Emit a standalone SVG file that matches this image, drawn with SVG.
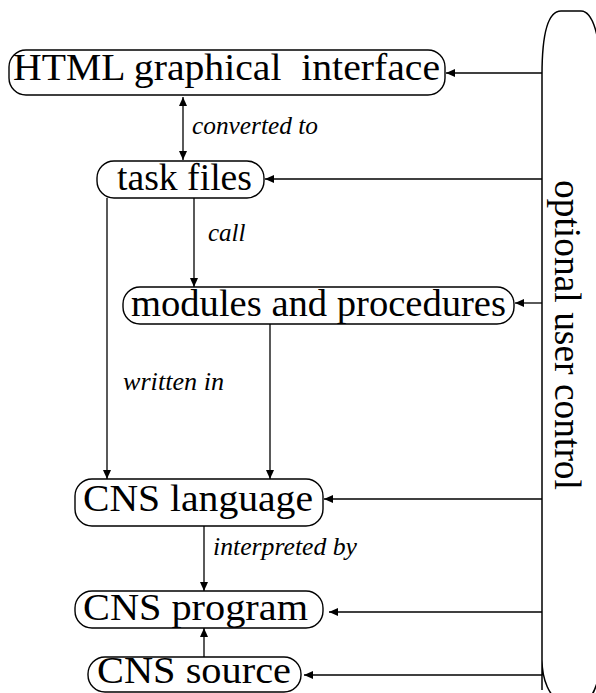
<svg xmlns="http://www.w3.org/2000/svg" width="596" height="693" viewBox="0 0 596 693">
<style>
.box{fill:#fff;stroke:#000;stroke-width:1.4}
.big{fill:none;stroke:#000;stroke-width:1.5}
.t{font-family:"Liberation Serif","Times New Roman",serif;font-size:38px;fill:#000}
.lab{font-family:"Liberation Serif","Times New Roman",serif;font-size:25px;font-style:italic;fill:#000}
.c{stroke:#000;stroke-width:1.3;fill:none}
</style>
<defs>
<marker id="ah" markerUnits="userSpaceOnUse" markerWidth="10" markerHeight="8" refX="9" refY="4" orient="auto">
<path d="M0,0 L9,4 L0,8 Z" fill="#000"/>
</marker>
<marker id="as" markerUnits="userSpaceOnUse" markerWidth="10" markerHeight="8" refX="1" refY="4" orient="auto">
<path d="M10,0 L1,4 L10,8 Z" fill="#000"/>
</marker>
</defs>
<g id="user-control">
<path class="big" d="M542,690 L542,75 C542,30 549,11 561,11 L581,11 C590,11 595,25 598,40 L598,680 C595,690 592,698 586,700 L560,700 C550,698 542,680 542,660 Z"/>
<text class="t" transform="translate(555,180) rotate(90)" textLength="310" lengthAdjust="spacingAndGlyphs">optional user control</text>
</g>
<g id="connectors">
<line class="c" x1="542" y1="73" x2="446" y2="73" marker-end="url(#ah)"/>
<line class="c" x1="183" y1="97" x2="183" y2="160" marker-start="url(#as)" marker-end="url(#ah)"/>
<line class="c" x1="542" y1="179" x2="265" y2="179" marker-end="url(#ah)"/>
<line class="c" x1="194" y1="198" x2="194" y2="287" marker-end="url(#ah)"/>
<line class="c" x1="542" y1="303" x2="515" y2="303" marker-end="url(#ah)"/>
<line class="c" x1="107" y1="198" x2="107" y2="479" marker-end="url(#ah)"/>
<line class="c" x1="270" y1="324" x2="270" y2="479" marker-end="url(#ah)"/>
<line class="c" x1="542" y1="499" x2="324" y2="499" marker-end="url(#ah)"/>
<line class="c" x1="204" y1="526" x2="204" y2="591" marker-end="url(#ah)"/>
<line class="c" x1="542" y1="612" x2="329" y2="612" marker-end="url(#ah)"/>
<line class="c" x1="204" y1="657" x2="204" y2="628" marker-end="url(#ah)"/>
<line class="c" x1="542" y1="675" x2="304" y2="675" marker-end="url(#ah)"/>
<text class="lab" x="192" y="134" textLength="126" lengthAdjust="spacingAndGlyphs">converted to</text>
<text class="lab" x="208" y="241">call</text>
<text class="lab" x="123" y="390" textLength="101" lengthAdjust="spacingAndGlyphs">written in</text>
<text class="lab" x="213" y="555" textLength="144" lengthAdjust="spacingAndGlyphs">interpreted by</text>
</g>
<g id="html">
<rect class="box" x="9" y="50" width="436" height="45" rx="17"/>
<text class="t" x="13" y="80" textLength="427" lengthAdjust="spacingAndGlyphs">HTML graphical&#160; interface</text>
</g>
<g id="task-files">
<rect class="box" x="97" y="161" width="167" height="37" rx="17"/>
<text class="t" x="117" y="190" textLength="135" lengthAdjust="spacingAndGlyphs">task files</text>
</g>
<g id="modules">
<rect class="box" x="123" y="287" width="391" height="37" rx="17"/>
<text class="t" x="131" y="316" textLength="375" lengthAdjust="spacingAndGlyphs">modules and procedures</text>
</g>
<g id="cns-language">
<rect class="box" x="75" y="479" width="248" height="47" rx="17"/>
<text class="t" x="83" y="511" textLength="230" lengthAdjust="spacingAndGlyphs">CNS language</text>
</g>
<g id="cns-program">
<rect class="box" x="75" y="591" width="248" height="37" rx="17"/>
<text class="t" x="83" y="620" textLength="225" lengthAdjust="spacingAndGlyphs">CNS program</text>
</g>
<g id="cns-source">
<rect class="box" x="88" y="657" width="213" height="35" rx="17"/>
<text class="t" x="97" y="683" textLength="194" lengthAdjust="spacingAndGlyphs">CNS source</text>
</g>
</svg>
